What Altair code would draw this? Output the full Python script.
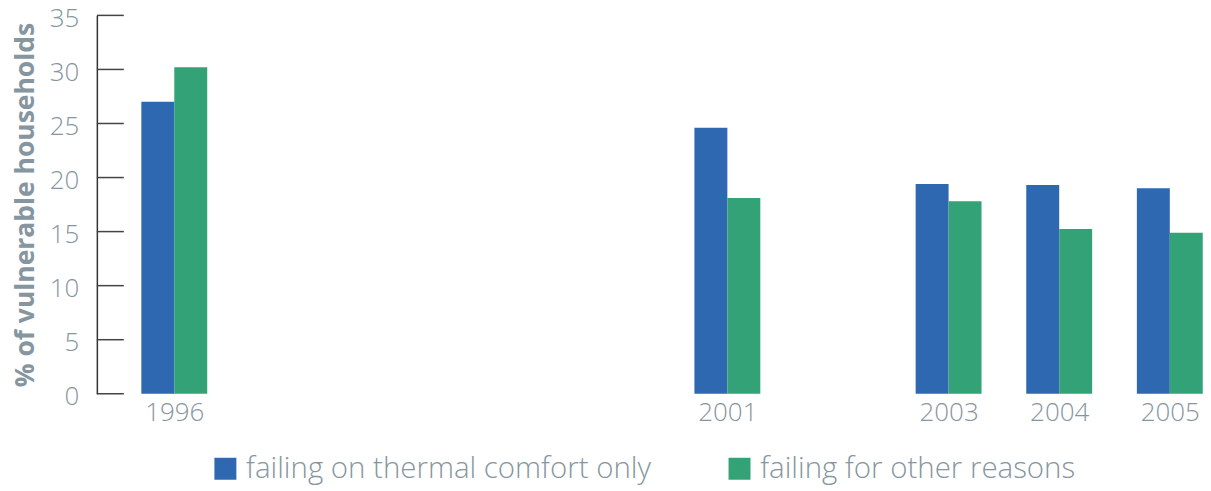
import altair as alt
import pandas as pd

years = [1996, 2001, 2003, 2004, 2005]
thermal = [27.0, 24.6, 19.4, 19.3, 19.0]
other = [30.2, 18.1, 17.8, 15.25, 14.9]
series_names = ["failing on thermal comfort only", "failing for other reasons"]
colors = ["#2e68b0", "#34a277"]
y_ticks = [0, 5, 10, 15, 20, 25, 30, 35]

rows = []
for y, a, b in zip(years, thermal, other):
    rows.append({"year": y, "series": series_names[0], "value": a})
    rows.append({"year": y, "series": series_names[1], "value": b})
df = pd.DataFrame(rows)
ticks_df = pd.DataFrame({"t": y_ticks})

TEXT = "#8696a0"
FONT = "Open Sans"

xscale = alt.Scale(domain=[1995.3, 2005.3], nice=False, zero=False, padding=0)
yscale = alt.Scale(domain=[0, 35], nice=False)
cscale = alt.Scale(domain=series_names, range=colors)

xaxis = alt.Axis(values=years, format="d", title=None, grid=False, domain=False,
                 ticks=False, labelFontSize=26, labelColor=TEXT, labelFont=FONT,
                 labelFontWeight=300, labelPadding=6)
yaxis = alt.Axis(values=y_ticks, title="% of vulnerable households", grid=False,
                 domain=True, domainColor="#333333", domainWidth=1.5, ticks=False,
                 labelFontSize=26, labelColor=TEXT, labelFont=FONT, labelFontWeight=300,
                 labelPadding=18, labelOffset=3, titleFontSize=26.5, titleFont=FONT,
                 titleFontWeight="bold", titleColor=TEXT, titlePadding=10)

legend = alt.Legend(title=None, orient="none", direction="horizontal",
                    legendX=114, legendY=439, symbolType="square", symbolSize=484,
                    symbolStrokeWidth=0, labelFontSize=29.5, labelColor=TEXT,
                    labelFont=FONT, labelFontWeight=300, labelOffset=6,
                    columnPadding=73, labelLimit=700)

base = alt.Chart(df)

blue = base.transform_filter(alt.datum.series == series_names[0]).mark_bar(
    size=33, xOffset=-16.5
).encode(
    x=alt.X("year:Q", scale=xscale, axis=xaxis),
    y=alt.Y("value:Q", scale=yscale, axis=yaxis),
    color=alt.Color("series:N", scale=cscale, legend=legend),
)
green = base.transform_filter(alt.datum.series == series_names[1]).mark_bar(
    size=33, xOffset=16.5
).encode(
    x=alt.X("year:Q", scale=xscale, axis=xaxis),
    y=alt.Y("value:Q", scale=yscale, axis=yaxis),
    color=alt.Color("series:N", scale=cscale, legend=legend),
)
tick_rules = alt.Chart(ticks_df).mark_rule(color="#444444", strokeWidth=1.5).encode(
    y=alt.Y("t:Q", scale=yscale, axis=yaxis),
    x=alt.value(0),
    x2=alt.value(27),
)

chart = alt.layer(blue, green, tick_rules).properties(
    width=1108, height=379,
    autosize=alt.AutoSizeParams(type="none"),
    padding={"left": 89, "top": 7, "right": 0, "bottom": 94},
).configure(font=FONT).configure_view(stroke="transparent", strokeWidth=0)

chart.save("out.html", embed_options={"renderer": "svg", "actions": False})
